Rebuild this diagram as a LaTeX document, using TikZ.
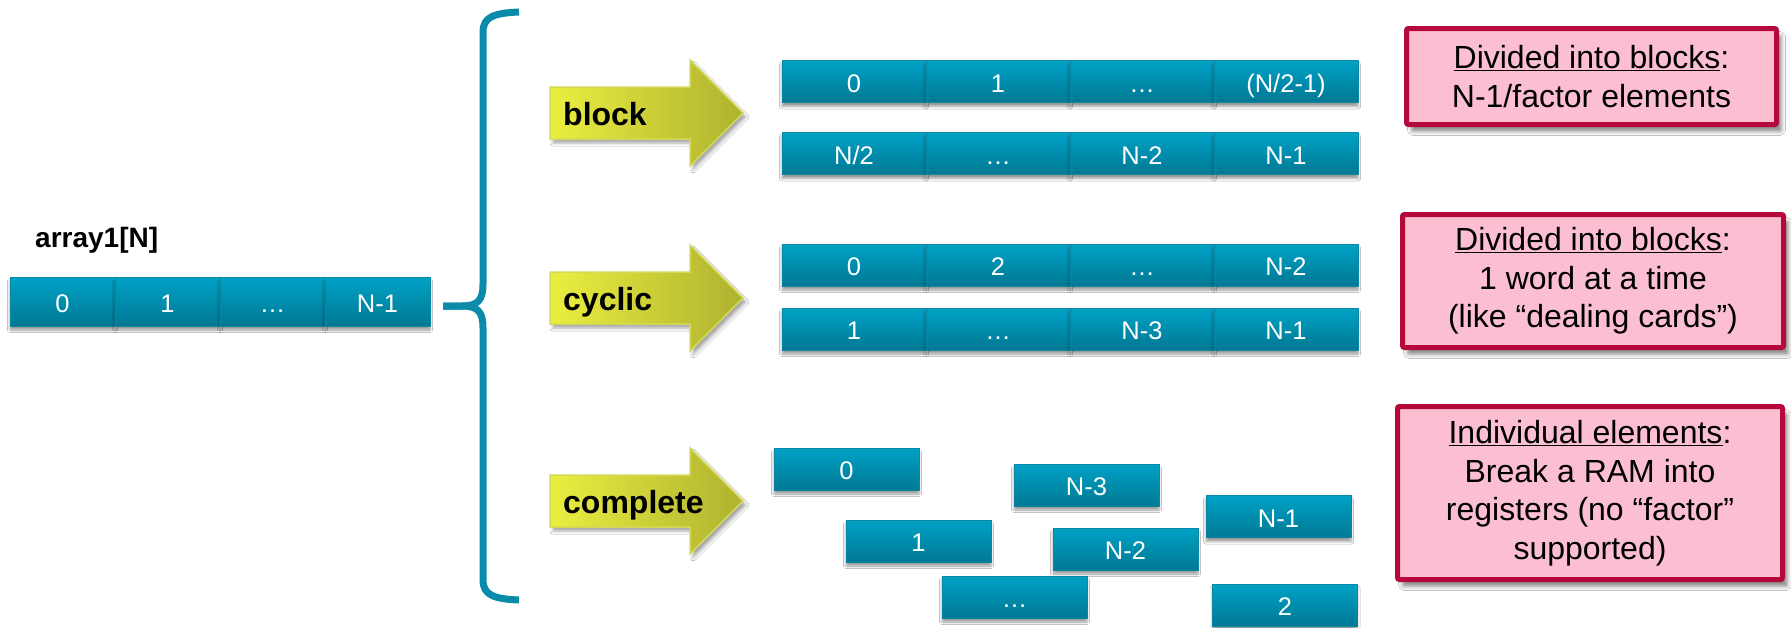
\documentclass[tikz,border=0pt]{standalone}
\usepackage{fontspec}
\setmainfont{Liberation Sans}
\usetikzlibrary{shadows.blur}
\definecolor{celltop}{HTML}{00A2C6}
\definecolor{cellbot}{HTML}{007893}
\definecolor{cellline}{HTML}{0B86A3}
\definecolor{bracecol}{HTML}{0A8BA9}
\definecolor{ayl}{HTML}{EBEE40}
\definecolor{ayr}{HTML}{AEB22F}
\definecolor{aline}{HTML}{D3D957}
\definecolor{pinkfill}{HTML}{FBBFD1}
\definecolor{pinkline}{HTML}{B5083B}
\newcommand\cellfnt{\fontsize{25.5}{28}\selectfont}
\newcommand\arrfnt{\fontsize{32}{36}\selectfont\bfseries}
\newcommand\lblfnt{\fontsize{28}{32}\selectfont\bfseries}
\newcommand\notefnt{\fontsize{32}{38.5}\selectfont}
\begin{document}
\begin{tikzpicture}[x=1pt,y=-1pt,
  cellbox/.style={draw=cellline, line width=0.8pt, top color=celltop, bottom color=cellbot,
    text=white, font=\cellfnt, inner sep=0pt, minimum height=42pt, minimum width=144pt,
    text height=21pt, text depth=0pt,
    blur shadow={shadow xshift=0pt, shadow yshift=-4pt, shadow blur radius=2.5pt, shadow opacity=40}},
  arrowshape/.style={draw=aline, line width=1.5pt, left color=ayl, right color=ayr, line join=miter,
    blur shadow={shadow xshift=3pt, shadow yshift=-4pt, shadow blur radius=3pt, shadow opacity=35}},
  arrtext/.style={anchor=base west, inner sep=0pt, font=\arrfnt, text=black},
  brace/.style={draw=bracecol, line width=7pt, line cap=butt, line join=round},
  notebox/.style={draw=pinkline, line width=5pt, fill=pinkfill, rounded corners=2pt,
    align=center, font=\notefnt, text=black, inner sep=0pt,
    blur shadow={shadow xshift=5pt, shadow yshift=-7pt, shadow blur radius=4pt, shadow opacity=45}}
]
\useasboundingbox (0,0) rectangle (1791,627);
\fill[white] (0,0) rectangle (1791,627);

% left array
\node[anchor=base west, inner sep=0pt, font=\lblfnt] (lbl) at (35,247) {array1[N]};
\foreach \t [count=\i from 0] in {0,1,…,N-1}
  \node[cellbox, minimum width=105pt, minimum height=49pt] (a\i) at ({62.5+105*\i},301.5) {\t};

% brace
\draw[brace] (519,12) .. controls (494,13) and (483,17) .. (483,32) -- (483,284)
  .. controls (483,300) and (478,306) .. (462,306) -- (443,306);
\draw[brace] (443,306) -- (462,306) .. controls (478,306) and (483,312) .. (483,328)
  -- (483,580) .. controls (483,595) and (494,599) .. (519,600);

% arrows
\foreach \c/\lab/\nm in {113/block/tb, 298/cyclic/tc, 501/complete/td}{
  \path[arrowshape] (550,\c-26) -- (690,\c-26) -- (690,\c-53) -- (743,\c) -- (690,\c+53)
    -- (690,\c+26) -- (550,\c+26) -- cycle;
  \node[arrtext] (\nm) at (563,\c+12) {\lab};
}

% block rows
\foreach \t [count=\i from 0] in {0,1,…,(N/2-1)}
  \node[cellbox] (b1\i) at ({854+144*\i},81.5) {\t};
\foreach \t [count=\i from 0] in {N/2,…,N-2,N-1}
  \node[cellbox] (b2\i) at ({854+144*\i},153.5) {\t};

% cyclic rows
\foreach \t [count=\i from 0] in {0,2,…,N-2}
  \node[cellbox] (c1\i) at ({854+144*\i},265) {\t};
\foreach \t [count=\i from 0] in {1,…,N-3,N-1}
  \node[cellbox] (c2\i) at ({854+144*\i},329) {\t};

% complete
\node[cellbox, minimum width=145pt] (d0) at (846.5,469) {0};
\node[cellbox, minimum width=145pt] (d1) at (1086.5,485) {N-3};
\node[cellbox, minimum width=145pt] (d2) at (1278.5,516.5) {N-1};
\node[cellbox, minimum width=145pt] (d3) at (918.5,541) {1};
\node[cellbox, minimum width=145pt] (d4) at (1125.5,549) {N-2};
\node[cellbox, minimum width=145pt] (d5) at (1014.5,597) {…};
\node[cellbox, minimum width=145pt] (d6) at (1285,605) {2};

% notes
\node[notebox, minimum width=370pt, minimum height=96pt] (n1) at (1591.5,76.5)
  {\underline{Divided into blocks}:\\N-1/factor elements};
\node[notebox, minimum width=381pt, minimum height=133pt] (n2) at (1593,281)
  {\underline{Divided into blocks}:\\1 word at a time\\(like “dealing cards”)};
\node[notebox, minimum width=385pt, minimum height=173pt] (n3) at (1590,493)
  {\underline{Individual elements}:\\Break a RAM into\\registers (no “factor”\\supported)};
\end{tikzpicture}
\end{document}
